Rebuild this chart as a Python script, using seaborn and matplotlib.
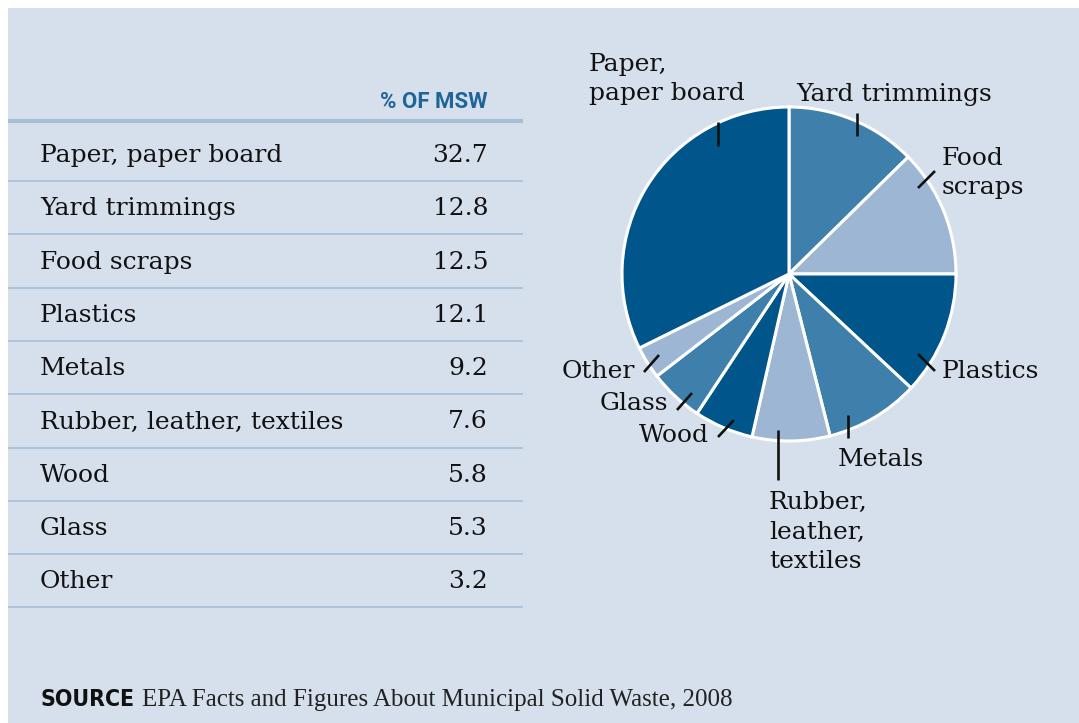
import matplotlib
matplotlib.use("Agg")
import matplotlib.pyplot as plt
import seaborn as sns
from matplotlib.patches import Rectangle
from matplotlib import font_manager as fm

# ---------------- data ----------------
categories = ["Paper, paper board", "Yard trimmings", "Food scraps", "Plastics",
              "Metals", "Rubber, leather, textiles", "Wood", "Glass", "Other"]
values = [32.7, 12.8, 12.5, 12.1, 9.2, 7.6, 5.8, 5.3, 3.2]
value_labels = ["32.7", "12.8", "12.5", "12.1", "9.2", "7.6", "5.8", "5.3", "3.2"]
pie_labels = ["Paper,\npaper board", "Yard trimmings", "Food\nscraps", "Plastics",
              "Metals", "Rubber,\nleather,\ntextiles", "Wood", "Glass", "Other"]
header = "% OF MSW"
source_word = "SOURCE"
source_text = "EPA Facts and Figures About Municipal Solid Waste, 2008"

# ---------------- style ----------------
sns.set_theme(style="white")
plt.rcParams["font.family"] = ["DejaVu Serif"]

BG = "#d6e0ec"
DARK, MID, LIGHT = "#00568a", "#3e80ab", "#9cb6d3"
slice_colors = {"Paper, paper board": DARK, "Yard trimmings": MID, "Food scraps": LIGHT,
                "Plastics": DARK, "Metals": MID, "Rubber, leather, textiles": LIGHT,
                "Wood": DARK, "Glass": MID, "Other": LIGHT}
RULE = "#a9c3d9"
HEAD = "#1f6597"

W, H = 1079, 723
fig = plt.figure(figsize=(W / 100, H / 100), dpi=100, facecolor="white")
ax = fig.add_axes([0, 0, 1, 1])
ax.set_xlim(0, W)
ax.set_ylim(0, H)

def Y(y):  # convert from top-based pixel to axes coordinate
    return H - y

# panel background
ax.add_patch(Rectangle((8, 0), W - 8, H - 8, facecolor=BG, edgecolor="none", zorder=0))

# ---------------- table ----------------
FS = 18
ax.text(488, Y(108), header, ha="right", va="baseline", fontsize=16,
        fontweight="bold", color=HEAD, family=["Roboto", "DejaVu Sans"])
ax.plot([8, 523], [Y(121), Y(121)], color="#a6bfd6", lw=3, solid_capstyle="butt")
pitch = 53.3
for i, (cat, lab) in enumerate(zip(categories, value_labels)):
    base = 162 + i * pitch
    ax.text(40, Y(base), cat, ha="left", va="baseline", fontsize=FS, color="#111111")
    ax.text(488, Y(base), lab, ha="right", va="baseline", fontsize=FS, color="#111111")
    ax.plot([8, 523], [Y(base + 19), Y(base + 19)], color=RULE, lw=1.3,
            solid_capstyle="butt")

# ---------------- pie ----------------
order = categories[1:] + categories[:1]   # clockwise from 12 o'clock, paper last
pie_vals = [values[categories.index(c)] for c in order]
ax.pie(pie_vals, colors=[slice_colors[c] for c in order], startangle=90,
       counterclock=False, center=(789, Y(274)), radius=167,
       wedgeprops=dict(edgecolor="white", linewidth=2.2), frame=True)

# leader ticks and labels (layout, in top-based pixel coords)
layout = {
    "Paper, paper board": dict(tick=((718, 122), (718, 146)), pos=(589, 79), ha="left"),
    "Yard trimmings": dict(tick=((857, 113), (857, 136)), pos=(796, 94), ha="left"),
    "Food scraps": dict(tick=((918, 188), (935, 171)), pos=(942, 173), ha="left"),
    "Plastics": dict(tick=((918, 354), (935, 371)), pos=(942, 371), ha="left"),
    "Metals": dict(tick=((848, 415), (848, 438)), pos=(838, 459), ha="left"),
    "Rubber, leather, textiles": dict(tick=((778, 430), (778, 480)), pos=(769, 532), ha="left"),
    "Wood": dict(tick=((718, 437), (734, 420)), pos=(709, 436), ha="right"),
    "Glass": dict(tick=((677, 410), (692, 393)), pos=(668, 403), ha="right"),
    "Other": dict(tick=((644, 372), (659, 355)), pos=(635, 371), ha="right"),
}
for cat, plab in zip(categories, pie_labels):
    L = layout[cat]
    (x0, y0), (x1, y1) = L["tick"]
    ax.plot([x0, x1], [Y(y0), Y(y1)], color="#111111", lw=1.9, solid_capstyle="butt", zorder=5)
    ax.text(L["pos"][0], Y(L["pos"][1]), plab, ha=L["ha"], va="center", fontsize=FS,
            color="#111111", linespacing=1.35)

# ---------------- source ----------------
cond = fm.FontProperties(family="DejaVu Sans", stretch="condensed", weight="bold")
cond_file = fm.findfont(cond, fallback_to_default=True)
if "Condensed" in cond_file:
    src_kw = dict(family=["DejaVu Sans"], fontstretch="condensed", fontsize=16.5)
else:
    src_kw = dict(family=["Roboto", "DejaVu Sans"], fontsize=15)
t_src = ax.text(40, Y(706), source_word, ha="left", va="baseline", fontweight="bold",
                color="#111111", **src_kw)
fig.canvas.draw()
bb = t_src.get_window_extent()
x_next = max(124, bb.x1 + 8)
ax.text(x_next, Y(706), source_text, ha="left", va="baseline", fontsize=18,
        color="#222222", family=["Liberation Serif", "DejaVu Serif"])

ax.set_xlim(0, W)
ax.set_ylim(0, H)
ax.set_aspect("auto")
ax.axis("off")

fig.savefig("out.png", dpi=100, facecolor="white")
